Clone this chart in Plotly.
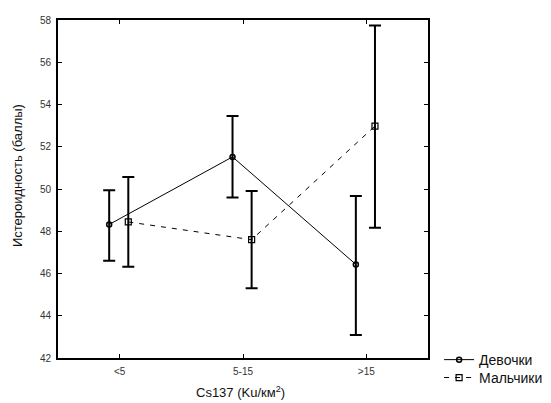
import plotly.graph_objects as go

categories = ["<5", "5-15", ">15"]
girls_mean = [48.32, 51.52, 46.43]
girls_upper = [49.94, 53.46, 49.67]
girls_lower = [46.60, 49.60, 43.09]
boys_mean = [48.44, 47.60, 52.98]
boys_upper = [50.57, 49.90, 57.74]
boys_lower = [46.32, 45.30, 48.16]
y_ticks = [42, 44, 46, 48, 50, 52, 54, 56, 58]

girls_off = -0.085
boys_off = 0.07
xi = list(range(len(categories)))

fig = go.Figure()
fig.add_trace(go.Scatter(
    x=[i + girls_off for i in xi], y=girls_mean, name="Девочки",
    mode="lines+markers", legend="legend",
    line=dict(color="black", width=1),
    marker=dict(symbol="circle-open", size=5, color="black", line=dict(width=1.5)),
    error_y=dict(type="data", symmetric=False,
                 array=[u - m for u, m in zip(girls_upper, girls_mean)],
                 arrayminus=[m - l for m, l in zip(girls_mean, girls_lower)],
                 color="black", thickness=2, width=6),
))
fig.add_trace(go.Scatter(
    x=[i + boys_off for i in xi], y=boys_mean, name="Мальчики",
    mode="lines+markers", legend="legend2",
    line=dict(color="black", width=1, dash="5px,6px"),
    marker=dict(symbol="square-open", size=6, color="black", line=dict(width=1.2)),
    error_y=dict(type="data", symmetric=False,
                 array=[u - m for u, m in zip(boys_upper, boys_mean)],
                 arrayminus=[m - l for m, l in zip(boys_mean, boys_lower)],
                 color="black", thickness=2, width=6),
))

leg_common = dict(xanchor="left", yanchor="middle",
                  font=dict(size=14, color="#111"), bgcolor="rgba(0,0,0,0)",
                  itemwidth=30)

fig.update_layout(
    width=551, height=403,
    margin=dict(l=58, r=123, t=20, b=45, autoexpand=False),
    paper_bgcolor="white", plot_bgcolor="white",
    font=dict(family="Liberation Sans, Arial, sans-serif", color="black"),
    showlegend=True,
    legend=dict(x=1.03, y=-0.006, **leg_common),
    legend2=dict(x=1.03, y=-0.059, **leg_common),
    annotations=[
        dict(text="Истероидность (баллы)", xref="paper", yref="paper",
             x=-0.111, y=0.541, xanchor="center", yanchor="middle",
             textangle=-90, showarrow=False, font=dict(size=13, color="#111")),
        dict(text="Cs137 (Ku/км<sup>2</sup>)", xref="paper", yref="paper",
             x=0.492, y=-0.1, xanchor="center", yanchor="middle",
             showarrow=False, font=dict(size=13, color="#111")),
    ],
)
fig.update_xaxes(
    range=[-0.5, 2.5], tickvals=xi, ticktext=categories,
    showgrid=False, zeroline=False,
    showline=True, linecolor="black", linewidth=2, mirror="ticks",
    ticks="inside", ticklen=4, tickwidth=1, tickcolor="black",
    tickfont=dict(size=10, color="#333"), ticklabelstandoff=3,
)
fig.update_yaxes(
    range=[42, 58], tickvals=y_ticks, ticktext=[str(v) for v in y_ticks],
    showgrid=False, zeroline=False,
    showline=True, linecolor="black", linewidth=2, mirror="ticks",
    ticks="inside", ticklen=4, tickwidth=1, tickcolor="black",
    tickfont=dict(size=10, color="#333"), ticklabelstandoff=3,
)

fig.write_html("out.html")
